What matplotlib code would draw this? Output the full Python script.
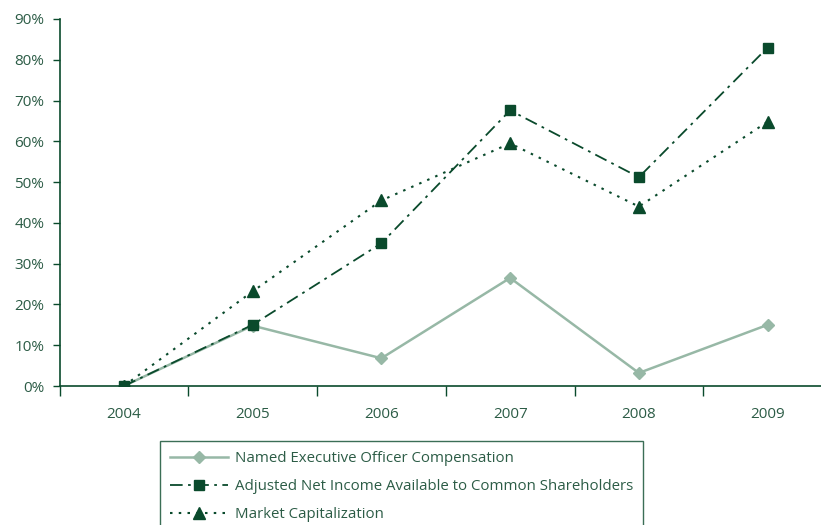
import matplotlib
matplotlib.use('Agg')
import matplotlib.pyplot as plt
import numpy as np

years = ['2004', '2005', '2006', '2007', '2008', '2009']
neo_comp = [0.0, 14.8, 6.8, 26.5, 3.2, 15.0]
net_income = [0.0, 15.0, 35.0, 67.6, 51.2, 83.0]
market_cap = [0.0, 23.2, 45.5, 59.5, 44.0, 64.8]
labels = ['Named Executive Officer Compensation',
          'Adjusted Net Income Available to Common Shareholders',
          'Market Capitalization']

dark = '#0a4a2c'
light = '#97b8a6'
text_col = '#2c5c46'

plt.rcParams['font.family'] = ['Open Sans', 'DejaVu Sans']

fig = plt.figure(figsize=(8.21, 5.25), dpi=100)
# axis runs off the right edge like in the original
ax = fig.add_axes([59.5/821, 1 - 386/525, (832 - 59.5)/821, (386 - 19)/525])

x = np.arange(len(years))
l1, = ax.plot(x, neo_comp, '-', color=light, lw=1.8, marker='D', ms=6.5,
              mfc=light, mec=light)
l2, = ax.plot(x, net_income, color=dark, lw=1.3, dashes=(7, 3, 1.5, 3),
              marker='s', ms=7, mfc=dark, mec=dark)
l3, = ax.plot(x, market_cap, color=dark, lw=1.5, dashes=(1.2, 3),
              marker='^', ms=8, mfc=dark, mec=dark)

ax.set_xlim(-0.5, 5.5)
ax.set_ylim(0, 90)
ax.set_yticks(range(0, 91, 10))
ax.set_yticklabels([f'{v}%' for v in range(0, 91, 10)])
ax.set_xticks(x)
ax.set_xticklabels(years)
ax.set_xticks(np.arange(-0.5, 6, 1), minor=True)
ax.tick_params(axis='x', which='major', length=0, pad=15, labelsize=11,
               colors=text_col)
ax.tick_params(axis='x', which='minor', length=7, width=1, color=dark,
               direction='out')
ax.tick_params(axis='y', length=5, width=1, color=dark, labelsize=11,
               labelcolor=text_col, pad=6)
for s in ['top', 'right']:
    ax.spines[s].set_visible(False)
for s in ['left', 'bottom']:
    ax.spines[s].set_color(dark)
    ax.spines[s].set_linewidth(1.2)

leg = fig.legend([l1, l2, l3], labels, loc='upper left',
                 bbox_to_anchor=(160/821, 1 - 441/525), frameon=True,
                 fancybox=False, edgecolor=dark, fontsize=10.8,
                 handlelength=3.9, handletextpad=0.45, labelspacing=0.88,
                 borderpad=0.65, borderaxespad=0)
leg.get_frame().set_linewidth(1.0)
for t in leg.get_texts():
    t.set_color(text_col)

fig.savefig('out.png', dpi=100)
